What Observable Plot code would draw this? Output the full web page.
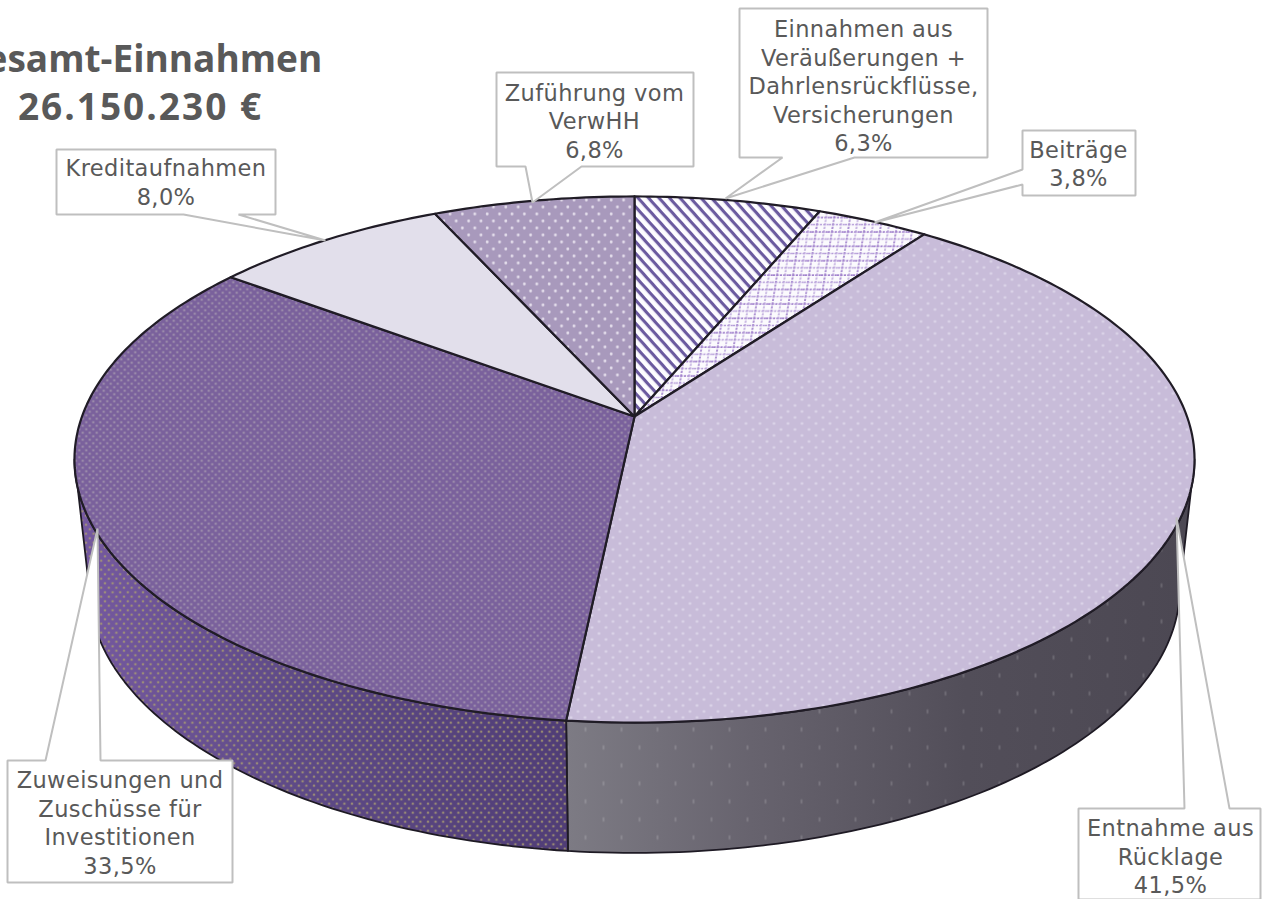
<!DOCTYPE html>
<html lang="de">
<head>
<meta charset="utf-8">
<title>Gesamt-Einnahmen</title>
<script src="https://cdn.jsdelivr.net/npm/d3@7"></script>
<script src="https://cdn.jsdelivr.net/npm/@observablehq/plot@0.6"></script>
<style>
html,body{margin:0;padding:0;background:#fff;overflow:hidden}
svg{display:block}
</style>
</head>
<body>
<div id="chart"></div>
<script>
// Data, clockwise from 12 o'clock
const categories = ["Einnahmen aus Veräußerungen + Dahrlensrückflüsse, Versicherungen","Beiträge","Entnahme aus Rücklage","Zuweisungen und Zuschüsse für Investitionen","Kreditaufnahmen","Zuführung vom VerwHH"];
const shares = [6.3,3.8,41.5,33.5,8.0,6.8];
const shareLabels = ["6,3%","3,8%","41,5%","33,5%","8,0%","6,8%"];
const titleLine = "Gesamt-Einnahmen";
const totalLine = "26.150.230 €";
const labelLines = [
  "Einnahmen aus\nVeräußerungen +\nDahrlensrückflüsse,\nVersicherungen",
  "Beiträge","Entnahme aus\nRücklage","Zuweisungen und\nZuschüsse für\nInvestitionen","Kreditaufnahmen","Zuführung vom\nVerwHH"
];
const topFills = ["url(#stripes)","url(#lattice)","url(#lilacDots)","url(#violetDots)","#e2dfeb","url(#mauveDots)"];

// Perspective of the disc
const K = 0.1635;
const topDisc = {cx:634, cy:416, A:552.5, B:256};
const baseDisc = {cx:634, cy:544, A:538, B:258};
const project = (disc, deg) => {
  const t = deg*Math.PI/180, w = 1+K*Math.cos(t);
  return {x:disc.cx+disc.A*Math.sin(t)/w, y:disc.cy-disc.B*Math.cos(t)/w};
};
const arc = (disc, a, b) => {
  const n = Math.max(2, Math.ceil(Math.abs(b-a)));
  return d3.range(n+1).map(i => project(disc, a+(b-a)*i/n));
};
const total = d3.sum(shares);
let run = 0;
const slices = shares.map((s,i) => { const a = run/total*360; run += s; return {a, b:run/total*360, i}; });
const silhouette = Math.acos(-K)*180/Math.PI;

const slicePoly = s => [{x:topDisc.cx,y:topDisc.cy}, ...arc(topDisc,s.a,s.b)];
const sidePoly = (a,b) => [...arc(topDisc,a,b), ...arc(baseDisc,b,a)];
const seam = slices[2].b;

// Callout outlines (box with a pointer to the rim)
const callouts = [
  {c:[863,84.5], pts:[[739,8],[987,8],[987,157],[854,157],[725,198],[782,157],[739,157]]},
  {c:[1078,162.5],pts:[[1022,130],[1135,130],[1135,195],[1022,195],[1022,184],[874,222],[1022,169]]},
  {c:[1170,855], pts:[[1078,808],[1184,808],[1176,517],[1229,808],[1260,808],[1260,899],[1078,899]]},
  {c:[119.5,821.5],pts:[[7,760],[45,760],[97,528],[100,760],[232,760],[232,882],[7,882]]},
  {c:[165.5,181],pts:[[56,149],[275,149],[275,214],[238,214],[325,240],[183,214],[56,214]]},
  {c:[594,119.5], pts:[[496,72],[693,72],[693,166],[581,166],[532,202],[525,166],[496,166]]}
];
const labelRows = categories.map((name,i) => ({
  name, text: labelLines[i]+"\n"+shareLabels[i], x:callouts[i].c[0], y:callouts[i].c[1]
}));

const defs = () => {
  const svg = d3.create("svg:defs");
  const pat = (id,w,h,bg,tf) => {
    const p = svg.append("pattern").attr("id",id).attr("patternUnits","userSpaceOnUse").attr("width",w).attr("height",h);
    if (tf) p.attr("patternTransform",tf);
    if (bg) p.append("rect").attr("width",w).attr("height",h).attr("fill",bg);
    return p;
  };
  const dots = (p,list,fill,rx,ry,op=1) => list.forEach(([x,y]) => p.append("ellipse").attr("cx",x).attr("cy",y).attr("rx",rx).attr("ry",ry).attr("fill",fill).attr("opacity",op));
  const s = pat("stripes",7.8,7.8,"#fdfcff","rotate(48)");
  s.append("rect").attr("width",7.8).attr("height",3.1).attr("fill","#6b5a9f");
  const l = pat("lattice",16,14.4,"#fbfafd","skewX(-9)");
  l.append("path").attr("d","M0 1H16M4 0V14.4").attr("stroke","#a080cc").attr("stroke-width",1.7).attr("stroke-dasharray","2.2 1.2").attr("fill","none");
  l.append("path").attr("d","M0 8.2H16M12 0V14.4").attr("stroke","#b39ad8").attr("stroke-width",1.4).attr("stroke-dasharray","2.2 1.2").attr("fill","none");
  dots(pat("lilacDots",14,12,"#c8bcd9"),[[3.5,3],[10.5,9]],"#ded7ea",1.3,1.3);
  dots(pat("violetDots",7,7,"#7a619c"),[[1.75,1.75],[5.25,5.25]],"#a89cb0",1.1,1.1);
  dots(pat("mauveDots",12.4,14,"#a899bc"),[[3.1,3.5],[9.3,10.5]],"#e6e0ed",1.4,1.4);
  dots(pat("greyDots",36,36,null),[[9,9],[27,27]],"#ffffff",1,2.4,.16);
  dots(pat("tanDots",7.6,9,null),[[1.9,2.25],[5.7,6.75]],"#a79a72",1.3,1.05);
  const grad = (id,x1,x2,stops) => {
    const g = svg.append("linearGradient").attr("id",id).attr("gradientUnits","userSpaceOnUse").attr("x1",x1).attr("x2",x2).attr("y1",0).attr("y2",0);
    stops.forEach(([o,c]) => g.append("stop").attr("offset",o).attr("stop-color",c));
  };
  grad("greySide",567,1180,[[0,"#7d7b84"],[.3,"#67636e"],[.65,"#524e59"],[1,"#4c4853"]]);
  grad("violetSide",75,567,[[0,"#7559a0"],[.45,"#5e4a86"],[1,"#503d76"]]);
  return svg.node();
};

const poly = (pts,o) => Plot.line(pts,{x:"x",y:"y",curve:"linear-closed",...o});
const outline = {stroke:"#201c26",strokeWidth:2.2,strokeLinejoin:"round"};
const spaced = px => (index,scales,values,dims,ctx,next) => {
  const g = next(index,scales,values,dims,ctx);
  g.style.letterSpacing = px;
  return g;
};

const chart = Plot.plot({
  width:1263, height:899, margin:0,
  x:{domain:[0,1263],range:[0,1263],axis:null},
  y:{domain:[0,899],range:[0,899],axis:null},
  marks:[
    defs,
    poly(sidePoly(silhouette,seam),{fill:"url(#greySide)",stroke:"none"}),
    poly(sidePoly(silhouette,seam),{fill:"url(#greyDots)",stroke:"#1e1a24",strokeWidth:1.8}),
    poly(sidePoly(seam,360-silhouette),{fill:"url(#violetSide)",stroke:"none"}),
    poly(sidePoly(seam,360-silhouette),{fill:"url(#tanDots)",stroke:"#1e1a24",strokeWidth:1.8}),
    ...slices.map(s => poly(slicePoly(s),{fill:topFills[s.i],...outline})),
    ...callouts.map(c => poly(c.pts.map(([x,y])=>({x,y})),{fill:"white",stroke:"#bfbfbf",strokeWidth:2,strokeLinejoin:"miter"})),
    Plot.text(labelRows,{x:"x",y:"y",text:"text",render:spaced(".4px"),fill:"#595959",fontFamily:"DejaVu Sans",fontSize:22.5,lineHeight:1.267,textAnchor:"middle",lineAnchor:"middle"}),
    Plot.text([titleLine],{x:()=>140,y:()=>60,text:d=>d,fill:"#595959",fontFamily:"Open Sans",fontWeight:700,fontSize:37,textAnchor:"middle",lineAnchor:"middle"}),
    Plot.text([totalLine],{x:()=>140,y:()=>108,text:d=>d,render:spaced("2px"),fill:"#595959",fontFamily:"Open Sans",fontWeight:700,fontSize:37,textAnchor:"middle",lineAnchor:"middle"})
  ]
});
document.getElementById("chart").append(chart);
</script>
</body>
</html>
